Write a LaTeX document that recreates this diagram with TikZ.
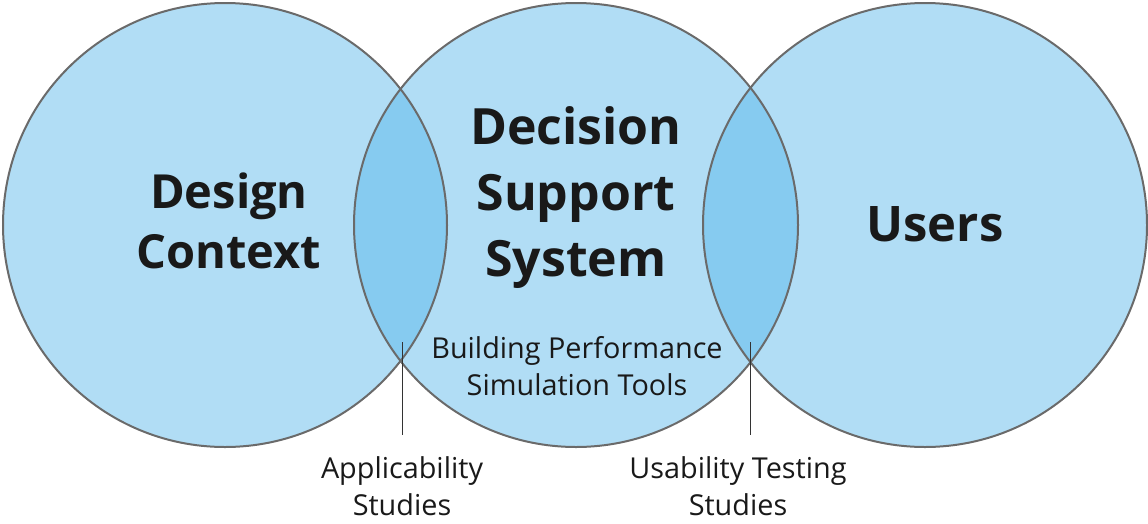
\documentclass[tikz,border=0pt]{standalone}
\usepackage{fontspec}
\setmainfont{Open Sans}
\usepackage{tikz}
\usetikzlibrary{positioning,calc}

\definecolor{setblue}{HTML}{B1DDF5}
\definecolor{lensblue}{HTML}{86CBF0}
\definecolor{ringgray}{HTML}{6A6A6A}

\tikzset{
    setcircle/.style={circle, minimum size=444pt, inner sep=0pt},
    bigtext/.style={font=\bfseries\fontsize{47}{60}\selectfont, align=center, text=black!90},
    smalltext/.style={font=\fontsize{28.8}{37}\selectfont, align=center, text=black!90, inner sep=1pt},
}

\begin{document}
\begin{tikzpicture}[x=1pt, y=-1pt]
    \useasboundingbox (0,0) rectangle (1148,523);

    % the three sets
    \node[setcircle] (context) at (225,225) {};
    \node[setcircle] (dss) at (576,225) {};
    \node[setcircle] (users) at (925,225) {};

    \fill[setblue] (context.center) circle (222);
    \fill[setblue] (dss.center) circle (222);
    \fill[setblue] (users.center) circle (222);

    % overlaps
    \begin{scope}
        \clip (context.center) circle (222);
        \fill[lensblue] (dss.center) circle (222);
    \end{scope}
    \begin{scope}
        \clip (users.center) circle (222);
        \fill[lensblue] (dss.center) circle (222);
    \end{scope}

    \draw[ringgray, line width=2pt] (context.center) circle (222);
    \draw[ringgray, line width=2pt] (dss.center) circle (222);
    \draw[ringgray, line width=2pt] (users.center) circle (222);

    % labels
    \node[bigtext] (dc) at (229,221) {Design\\Context};
    \node[bigtext, font=\bfseries\fontsize{50}{66}\selectfont] (dsst) at (576,198) {Decision\\Support\\System};
    \node[bigtext, font=\bfseries\fontsize{49}{60}\selectfont] (ut) at (935,224) {Users};
    \node[smalltext] (bps) at (577,366) {Building Performance\\Simulation Tools};

    \node[smalltext] (app) at (402,486) {Applicability\\Studies};
    \node[smalltext] (use) at (738,486) {Usability Testing\\Studies};

    % pointers
    \coordinate (appin) at (402,342);
    \coordinate (usein) at (750,342);
    \draw[black!80, line width=1pt] (appin) -- (appin |- 0,435);
    \draw[black!80, line width=1pt] (usein) -- (usein |- 0,435);
\end{tikzpicture}
\end{document}
